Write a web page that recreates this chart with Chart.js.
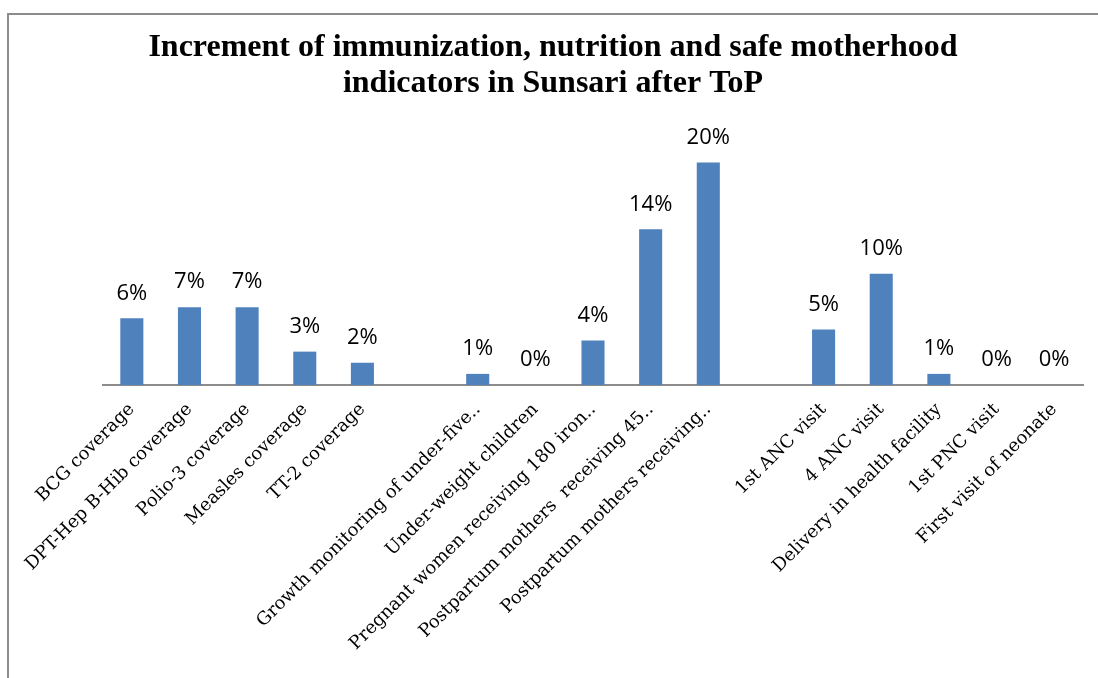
<!DOCTYPE html>
<html>
<head>
<meta charset="utf-8">
<script src="https://cdn.jsdelivr.net/npm/chart.js@4.4.1/dist/chart.umd.min.js"></script>
<style>
  html, body { margin: 0; padding: 0; background: #ffffff; overflow: hidden; }
  #frame {
    position: absolute; left: 7px; top: 13px; width: 1200px; height: 800px;
    border-left: 2px solid #8c8c8c; border-top: 2px solid #8c8c8c;
  }
  #wrap { position: absolute; left: 0; top: 0; width: 1098px; height: 678px; }
</style>
</head>
<body>
<div id="frame"></div>
<div id="wrap"><canvas id="incrementChart"></canvas></div>
<script>
// indicator names, empty entries leave the gaps between the three groups
const indicators = [
  "BCG coverage",
  "DPT-Hep B-Hib coverage",
  "Polio-3 coverage",
  "Measles coverage",
  "TT-2 coverage",
  "",
  "Growth monitoring of under-five..",
  "Under-weight children",
  "Pregnant women receiving 180 iron..",
  "Postpartum mothers  receiving 45..",
  "Postpartum mothers receiving..",
  "",
  "1st ANC visit",
  "4 ANC visit",
  "Delivery in health facility",
  "1st PNC visit",
  "First visit of neonate"
];

// increment after ToP, percent
const increments = [6, 7, 7, 3, 2, null, 1, 0, 4, 14, 20, null, 5, 10, 1, 0, 0];

const titleLines = [
  "Increment of immunization, nutrition and safe motherhood",
  "indicators in Sunsari after ToP"
];

// two-line heading, centred on the page rather than the plot
const heading = {
  id: "heading",
  afterDraw(chart) {
    const ctx = chart.ctx;
    ctx.save();
    ctx.font = "bold 32px 'Liberation Serif'";
    ctx.fillStyle = "#000000";
    ctx.textAlign = "center";
    ctx.textBaseline = "middle";
    titleLines.forEach((line, i) => ctx.fillText(line, 553, 48 + i * 36));
    ctx.restore();
  }
};

// writes "n%" above every bar
const valueLabels = {
  id: "valueLabels",
  afterDatasetsDraw(chart) {
    const ctx = chart.ctx;
    const meta = chart.getDatasetMeta(0);
    ctx.save();
    ctx.font = "22px 'Open Sans'";
    ctx.fillStyle = "#000000";
    ctx.textAlign = "center";
    ctx.textBaseline = "middle";
    meta.data.forEach((bar, i) => {
      const value = increments[i];
      if (value === null) return;
      ctx.fillText(value + "%", bar.x, bar.y - 25);
    });
    ctx.restore();
  }
};

const context = document.getElementById("incrementChart").getContext("2d");
new Chart(context, {
  type: "bar",
  data: {
    labels: indicators,
    datasets: [{
      label: "Increment",
      data: increments,
      backgroundColor: "#4f81bd",
      borderWidth: 0,
      categoryPercentage: 1,
      barPercentage: 0.4
    }]
  },
  options: {
    responsive: true,
    maintainAspectRatio: false,
    animation: false,
    layout: { padding: { left: 103, right: 15, top: 118, bottom: 26 } },
    plugins: {
      legend: { display: false },
      tooltip: { enabled: false },
      title: { display: false }
    },
    scales: {
      x: {
        grid: { display: false },
        border: { display: true, color: "#8c8c8c", width: 2 },
        ticks: {
          autoSkip: false,
          minRotation: 45,
          maxRotation: 45,
          color: "#000000",
          padding: 6,
          font: { family: "'DejaVu Serif'", size: 18 }
        }
      },
      y: {
        display: false,
        min: 0,
        max: 24
      }
    }
  },
  plugins: [valueLabels, heading]
});
</script>
</body>
</html>
